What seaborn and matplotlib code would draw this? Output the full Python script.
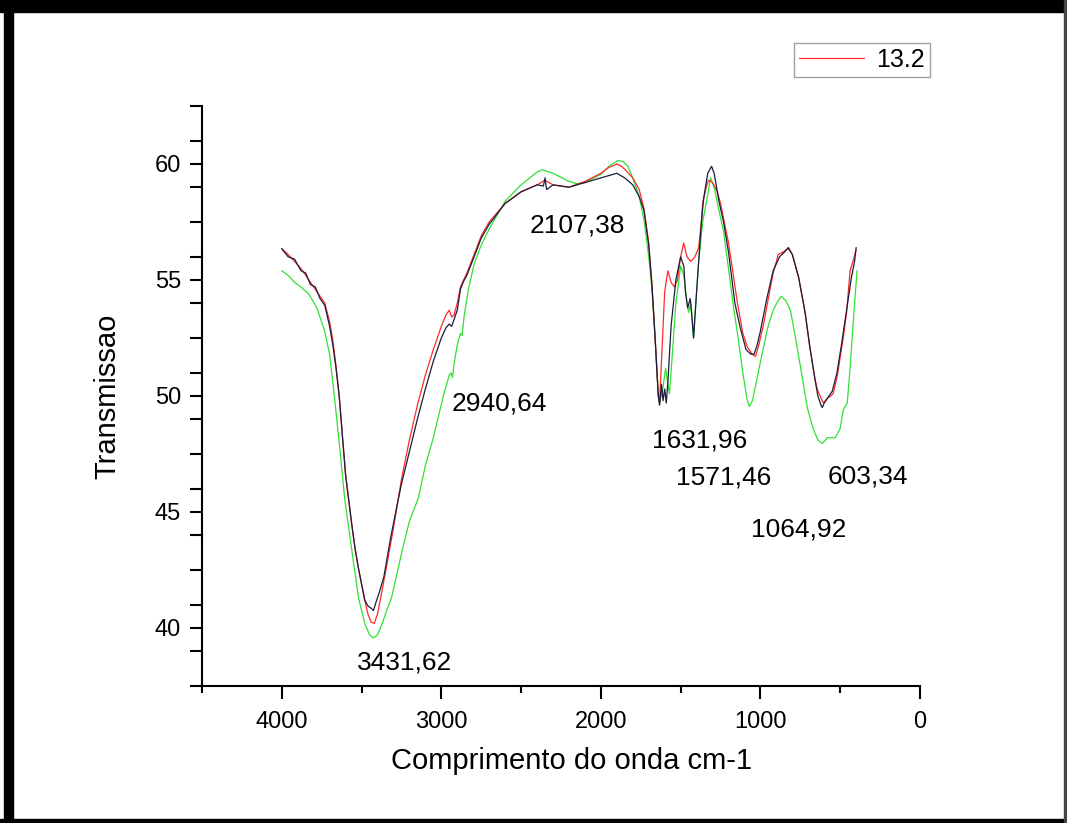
import numpy as np
import pandas as pd
import matplotlib
matplotlib.use("Agg")
import matplotlib.pyplot as plt
from matplotlib.patches import Rectangle
from matplotlib.ticker import FixedLocator
import seaborn as sns

# ---- data (wavenumber cm-1, transmission) ----
black_x = [4000, 3960, 3920, 3880, 3850, 3820, 3790, 3760, 3730, 3700, 3680, 3660, 3640, 3620, 3600,
           3580, 3560, 3540, 3520, 3500, 3480, 3460, 3440, 3425, 3410, 3390, 3360, 3320, 3280, 3250,
           3200, 3150, 3100, 3050, 3000, 2970, 2950, 2935, 2920, 2900, 2880, 2860, 2840, 2800, 2750,
           2700, 2600, 2500, 2400, 2360, 2350, 2340, 2300, 2200, 2100, 2000, 1950, 1900, 1850, 1800,
           1760, 1730, 1700, 1680, 1660, 1640, 1632, 1620, 1610, 1600, 1590, 1580, 1560, 1530, 1500,
           1480, 1470, 1456, 1440, 1430, 1419, 1400, 1387, 1370, 1356, 1330, 1306, 1290, 1260, 1231,
           1200, 1160, 1125, 1090, 1060, 1040, 1020, 1000, 960, 920, 880, 850, 825, 800, 760,
           720, 690, 660, 640, 620, 612, 600, 580, 550, 520, 490, 460, 430, 410, 400]
black_y = [56.35, 56.0, 55.9, 55.4, 55.3, 54.8, 54.7, 54.2, 53.9, 53.0, 52.2, 51.2, 50.0, 48.3, 46.6,
           45.5, 44.4, 43.4, 42.6, 41.9, 41.2, 40.95, 40.85, 40.75, 41.1, 41.5, 42.2, 43.8, 45.2, 46.2,
           47.6, 49.0, 50.3, 51.5, 52.5, 52.95, 53.1, 53.0, 53.3, 53.7, 54.6, 54.95, 55.2, 55.9, 56.8,
           57.4, 58.3, 58.8, 59.1, 59.05, 59.4, 58.9, 59.1, 59.0, 59.2, 59.4, 59.5, 59.6, 59.4, 59.1,
           58.6, 58.0, 56.5, 54.8, 52.5, 50.0, 49.6, 50.5, 49.8, 50.3, 49.7, 50.6, 53.0, 55.0, 56.0,
           55.6, 54.5, 53.8, 54.2, 53.5, 52.5, 54.5, 55.8, 57.5, 58.5, 59.6, 59.9, 59.6, 58.4, 57.5,
           56.2, 54.0, 52.9, 52.0, 51.8, 51.8, 52.2, 52.8, 54.2, 55.4, 56.0, 56.2, 56.4, 56.1, 55.1,
           53.6, 52.1, 50.8, 50.0, 49.6, 49.5, 49.7, 49.9, 50.2, 51.0, 52.3, 53.7, 55.1, 55.8, 56.4]

red_x = [4000, 3960, 3920, 3880, 3850, 3820, 3790, 3760, 3730, 3700, 3680, 3660, 3640, 3620, 3600,
         3580, 3560, 3540, 3520, 3500, 3480, 3460, 3440, 3420, 3400, 3380, 3350, 3300, 3250, 3200,
         3150, 3100, 3050, 3000, 2970, 2950, 2935, 2920, 2900, 2880, 2860, 2840, 2800, 2750, 2700,
         2600, 2500, 2400, 2350, 2300, 2200, 2100, 2000, 1950, 1900, 1870, 1840, 1800, 1760, 1730,
         1700, 1680, 1660, 1640, 1632, 1620, 1600, 1580, 1560, 1540, 1520, 1500, 1481, 1460, 1437,
         1410, 1387, 1370, 1362, 1340, 1325, 1300, 1270, 1250, 1200, 1144, 1110, 1081, 1050, 1031,
         1010, 980, 956, 920, 888, 860, 825, 800, 760, 720, 690, 660, 644, 620, 606,
         580, 560, 544, 520, 481, 460, 438, 420, 400]
red_y = [56.35, 56.1, 55.8, 55.5, 55.2, 54.9, 54.6, 54.3, 54.0, 53.2, 52.4, 51.3, 50.0, 48.3, 46.6,
         45.5, 44.4, 43.4, 42.6, 41.9, 41.2, 40.6, 40.25, 40.2, 40.6, 41.3, 42.4, 44.3, 46.4, 48.1,
         49.6, 50.9, 52.0, 53.0, 53.5, 53.7, 53.4, 53.5, 54.0, 54.7, 55.0, 55.3, 56.0, 56.9, 57.5,
         58.3, 58.8, 59.1, 59.3, 59.1, 59.0, 59.25, 59.6, 59.85, 60.0, 59.9, 59.7, 59.4, 58.9, 58.1,
         56.6, 54.8, 52.5, 50.0, 49.7, 51.5, 54.5, 55.4, 54.9, 54.7, 55.0, 56.0, 56.6, 56.0, 55.8,
         56.0, 56.4, 57.5, 58.3, 59.0, 59.3, 59.2, 58.8, 58.3, 56.6, 54.0, 52.7, 52.1, 51.8, 51.7,
         52.2, 53.1, 54.0, 55.3, 56.1, 56.2, 56.35, 56.1, 55.1, 53.6, 52.1, 50.8, 50.3, 49.9, 49.7,
         49.9, 50.0, 50.1, 50.8, 52.5, 53.6, 55.4, 55.8, 56.3]

green_x = [4000, 3960, 3920, 3880, 3831, 3780, 3731, 3700, 3669, 3640, 3606, 3560, 3519, 3480, 3450,
           3425, 3400, 3370, 3340, 3312, 3250, 3200, 3144, 3100, 3050, 3019, 2980, 2950, 2940, 2930,
           2920, 2900, 2880, 2870, 2856, 2830, 2794, 2750, 2700, 2600, 2500, 2400, 2370, 2300, 2200,
           2150, 2100, 2000, 1950, 1894, 1860, 1830, 1800, 1760, 1730, 1700, 1680, 1660, 1640, 1632,
           1612, 1594, 1580, 1570, 1550, 1530, 1500, 1480, 1460, 1450, 1437, 1419, 1400, 1387, 1362,
           1340, 1312, 1290, 1260, 1231, 1200, 1170, 1144, 1110, 1085, 1069, 1050, 1020, 990, 956,
           920, 890, 869, 840, 812, 780, 750, 706, 670, 640, 612, 580, 531, 500, 481,
           456, 440, 425, 410, 394]
green_y = [55.4, 55.2, 54.9, 54.7, 54.4, 53.8, 52.8, 51.8, 49.9, 48.0, 45.6, 43.3, 41.3, 40.2, 39.7,
           39.57, 39.7, 40.2, 40.8, 41.3, 43.2, 44.6, 45.6, 47.0, 48.2, 49.1, 50.2, 50.9, 51.0, 50.8,
           51.4, 52.2, 52.7, 52.6, 53.5, 54.6, 55.7, 56.5, 57.2, 58.4, 59.1, 59.65, 59.75, 59.6, 59.25,
           59.15, 59.2, 59.55, 59.9, 60.15, 60.1, 59.9, 59.4, 58.6, 57.6, 56.0, 54.6, 52.5, 50.0, 49.7,
           50.3, 51.2, 50.5, 50.1, 52.0, 54.0, 55.6, 55.2, 54.0, 53.6, 54.0, 52.5, 54.5, 55.8, 57.5,
           58.3, 59.4, 59.0, 58.0, 57.1, 55.5, 53.9, 52.7, 51.0, 49.9, 49.55, 49.8, 50.8, 51.8, 52.9,
           53.7, 54.1, 54.3, 54.1, 53.7, 52.5, 51.3, 49.5, 48.6, 48.1, 47.95, 48.2, 48.2, 48.6, 49.4,
           49.7, 51.0, 52.5, 54.0, 55.4]

legend_label = "13.2"
x_label = "Comprimento do onda cm-1"
y_label = "Transmissao"
x_ticks = [4000, 3000, 2000, 1000, 0]
y_ticks = [40, 45, 50, 55, 60]

peak_labels = ["3431,62", "2940,64", "2107,38", "1631,96", "1571,46", "603,34", "1064,92"]
peak_label_x = [3231, 2637, 2150, 1381, 1231, 325, 762]
peak_label_y = [38.5, 49.68, 57.33, 48.09, 46.5, 46.54, 44.26]

# ---- style ----
sns.set_style("ticks")
plt.rcParams["font.family"] = ["Liberation Sans", "DejaVu Sans"]
plt.rcParams["text.color"] = "black"
plt.rcParams["axes.labelcolor"] = "black"
plt.rcParams["xtick.color"] = "black"
plt.rcParams["ytick.color"] = "black"

fig = plt.figure(figsize=(10.67, 8.23), dpi=100)
ax = fig.add_axes([0.1893, 0.1665, 0.8622 - 0.1893, 0.8712 - 0.1665])

df_g = pd.DataFrame({"x": green_x, "y": green_y})
df_r = pd.DataFrame({"x": red_x, "y": red_y})
df_b = pd.DataFrame({"x": black_x, "y": black_y})

sns.lineplot(data=df_g, x="x", y="y", ax=ax, color="#33e033", lw=0.9, sort=False, legend=False)
sns.lineplot(data=df_r, x="x", y="y", ax=ax, color="#ff2a2a", lw=0.9, sort=False, label=legend_label)
sns.lineplot(data=df_b, x="x", y="y", ax=ax, color="#1c1c3c", lw=0.9, sort=False, legend=False)

ax.set_xlim(4500, 0)
ax.set_ylim(37.5, 62.5)

ax.set_xticks(x_ticks)
ax.xaxis.set_minor_locator(FixedLocator([4500, 3500, 2500, 1500, 500]))
ax.set_yticks(y_ticks)
minor_y = sorted([m - 1 for m in y_ticks] + [m + 1 for m in y_ticks] + [37.5, 42.5, 47.5, 52.5, 57.5, 62.5])
ax.yaxis.set_minor_locator(FixedLocator(minor_y))

ax.tick_params(axis="both", which="major", direction="out", length=9, width=1.5, labelsize=17, colors="black")
ax.tick_params(axis="x", which="minor", direction="out", length=5, width=1.5)
ax.tick_params(axis="y", which="minor", direction="out", length=9, width=1.5)
ax.tick_params(axis="x", pad=9)
ax.tick_params(axis="y", pad=6)

for s in ["top", "right"]:
    ax.spines[s].set_visible(False)
for s in ["left", "bottom"]:
    ax.spines[s].set_linewidth(1.5)
    ax.spines[s].set_color("black")

ax.set_xlabel(x_label, fontsize=21, labelpad=12, color="black")
ax.xaxis.set_label_coords(0.515, -0.105)
ax.set_ylabel(y_label, fontsize=21, labelpad=24, color="black")

for t, px, py in zip(peak_labels, peak_label_x, peak_label_y):
    ax.text(px, py, t, fontsize=19, ha="center", va="center", color="black")

leg = ax.legend(loc="upper left", bbox_to_anchor=((794 - 202) / 718, (823 - 43 - 137) / 580 + 0.0),
                frameon=True, fancybox=False, fontsize=18, handlelength=2.6, borderpad=0.2,
                handletextpad=0.5, borderaxespad=0)
leg.get_frame().set_edgecolor("#888888")
leg.get_frame().set_linewidth(1.0)

# figure border
W, H = 1067, 823
def add_rect(x0, y0, w, h, color):
    fig.add_artist(Rectangle((x0 / W, 1 - (y0 + h) / H), w / W, h / H,
                             transform=fig.transFigure, color=color, zorder=10))
add_rect(0, 0, W, 12, "black")
add_rect(4, 0, 9, H, "black")
add_rect(0, 819, W, 4, "black")
add_rect(1064, 0, 3, H, "#444444")

fig.savefig("out.png", dpi=100)
